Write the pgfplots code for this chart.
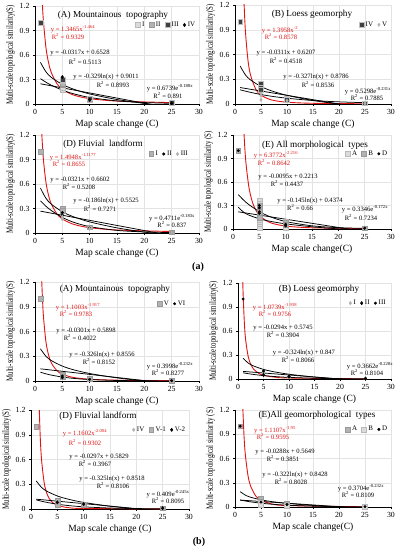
\documentclass[border=0pt]{standalone}
\usepackage{fontspec}
\setmainfont{Liberation Serif}
\usepackage{graphicx}
\usepackage{pgfplots}
\pgfplotsset{compat=1.18}
\definecolor{exred}{RGB}{225,20,20}
\newcommand{\eqf}{\fontsize{6.6}{7}\selectfont}
\newcommand{\ttl}{\fontsize{9.2}{10}\selectfont}
\newcommand{\yl}[1]{\scalebox{0.72}[1]{#1}}
\newcommand{\sq}{\textsuperscript}
\pgfplotsset{
 panel/.style={scale only axis, xmin=0, xmax=30, ymin=0, ymax=1.2,
   xtick={0,5,10,15,20,25,30}, ytick={0,0.3,0.6,0.9,1.2},
   grid=major, grid style={gray!22, line width=0.4pt},
   axis x line*=bottom, axis y line*=left,
   axis line style={black, line width=0.5pt},
   tick align=outside, major tick length=2pt, tick style={black, line width=0.4pt},
   /pgf/number format/assume math mode=true,
   ticklabel style={font=\fontsize{7.8}{8}\selectfont},
   yticklabel style={/pgf/number format/.cd, fixed, precision=1},
   xlabel style={font=\fontsize{9.5}{10}\selectfont, yshift=2pt},
   ylabel style={font=\fontsize{9.5}{10}\selectfont, yshift=-2pt},
   legend style={draw=none, fill=none, font=\fontsize{7}{8}\selectfont, legend columns=-1, anchor=east, inner sep=0pt, /tikz/every even column/.append style={column sep=2.5pt}},
 },
 sc/.style={only marks, legend image code/.code={\draw[mark repeat=2,mark phase=2,##1] plot coordinates {(0cm,0cm)(0.08cm,0cm)(0.16cm,0cm)};}},
 sqL/.style={mark=square*, mark options={fill=gray!28, draw=gray!55}, mark size=2.4pt},
 sqM/.style={mark=square*, mark options={fill=gray!60, draw=gray!80}, mark size=2.4pt},
 sqD/.style={mark=square*, mark options={fill=black!75, draw=gray!50}, mark size=2.4pt},
 dia/.style={mark=diamond*, mark options={fill=black, draw=black}, mark size=1.7pt},
 diaG/.style={mark=diamond*, mark options={fill=gray!60, draw=gray!60}, mark size=1.7pt},
 dt/.style={mark=*, mark options={fill=black, draw=black}, mark size=1.3pt},
 trR/.style={exred, line width=0.9pt, smooth, no markers, forget plot},
 trK/.style={black, line width=0.75pt, smooth, no markers, forget plot},
 trL/.style={black, line width=0.75pt, no markers, forget plot},
}
\begin{document}
\begin{tikzpicture}
\useasboundingbox (0,0) rectangle (398pt,550pt);

% ---------------- (a) A
\begin{axis}[panel, at={(35pt,446pt)}, anchor=south west, width=164pt, height=98pt,
  xlabel={Map scale change (C)}, ylabel={\yl{Multi-scale topological similarity(S)}},
  legend style={at={(0.99,0.806)}}]
\addplot[sc,sqL] coordinates {(1,1)(5,0.17)(5,0.2)(10,0.05)(25,0.01)}; \addlegendentry{I}
\addplot[sc,sqM] coordinates {(1,1)(5,0.23)(5,0.25)(10,0.06)(25,0.01)}; \addlegendentry{II}
\addplot[sc,sqD] coordinates {(1,1)(5,0.28)(5,0.3)(10,0.07)(25,0.012)}; \addlegendentry{III}
\addplot[sc,dia] coordinates {(5,0.33)(10,0.05)(25,0.01)}; \addlegendentry{IV}
\addplot[trR] coordinates {(1.3,1.296)(1.5,1.051)(2,0.691)(2.5,0.499)(3,0.382)(4,0.251)(5,0.181)(7,0.111)(10,0.066)(15,0.036)(25,0.017)};
\addplot[trK] coordinates {(1,0.51)(2,0.394)(3,0.325)(5,0.24)(7,0.183)(10,0.123)(15,0.055)(20,0.007)(25,-0.031)};
\addplot[trL] coordinates {(1,0.2475)(25,-0.0525)};
\addplot[trK] coordinates {(1,0.31)(2,0.267)(3,0.2295)(5,0.17)(7,0.126)(10,0.08)(15,0.038)(20,0.018)(25,0.0085)};
\end{axis}

% ---------------- (a) B
\begin{axis}[panel, at={(235pt,446pt)}, anchor=south west, width=156pt, height=99pt,
  xlabel={Map scale change (C)}, ylabel={\yl{Multi-scale topological similarity(S)}},
  legend style={at={(0.99,0.80)}}]
\addplot[sc,sqD] coordinates {(1,1)(5,0.25)(5,0.2)(5,0.17)(10,0.07)(10,0.05)(25,0.01)}; \addlegendentry{IV}
\addplot[sc,diaG] coordinates {(5,0.13)(5,0.1)(5,0.05)(10,0.04)(25,0.008)}; \addlegendentry{V}
\addplot[trR] coordinates {(1.7,1.284)(2,0.884)(2.5,0.528)(3,0.348)(4,0.179)(5,0.1074)(7,0.0495)(10,0.0218)(15,0.0086)(25,0.0027)};
\addplot[trK] coordinates {(1,0.46)(2,0.353)(3,0.291)(5,0.212)(7,0.16)(10,0.105)(15,0.043)(20,-0.001)(25,-0.036)};
\addplot[trL] coordinates {(1,0.1995)(25,-0.0525)};
\addplot[trK] coordinates {(1,0.172)(2,0.156)(3,0.141)(5,0.115)(7,0.094)(10,0.07)(15,0.042)(20,0.026)(25,0.016)};
\end{axis}

% ---------------- (a) D
\begin{axis}[panel, at={(35pt,317pt)}, anchor=south west, width=164pt, height=98pt,
  xlabel={Map scale change (C)}, ylabel={\yl{Multi-scale topological similarity(S)}},
  legend style={at={(0.945,0.806)}}]
\addplot[sc,sqM] coordinates {(1,1)(5,0.3)(5,0.27)(10,0.07)(25,0.01)}; \addlegendentry{I}
\addplot[sc,dt] coordinates {(5,0.25)(5,0.22)(10,0.06)(25,0.01)}; \addlegendentry{II}
\addplot[sc,diaG] coordinates {(5,0.2)(5,0.17)(10,0.05)(25,0.01)}; \addlegendentry{III}
\addplot[trR] coordinates {(1.2,1.27)(1.5,0.93)(2,0.622)(2.5,0.455)(3,0.352)(4,0.2355)(5,0.172)(7,0.1076)(10,0.0653)(15,0.037)(25,0.0181)};
\addplot[trK] coordinates {(1,0.55)(2,0.425)(3,0.352)(5,0.26)(7,0.2)(10,0.136)(15,0.063)(20,0.011)(25,-0.029)};
\addplot[trK] coordinates {(1,0.393)(2,0.328)(3,0.274)(5,0.191)(7,0.133)(10,0.078)(15,0.032)(20,0.0128)(25,0.0052)};
\addplot[trL] coordinates {(1,0.2675)(25,-0.0325)};
\end{axis}

% ---------------- (a) E
\begin{axis}[panel, at={(233pt,321pt)}, anchor=south west, width=158pt, height=94pt,
  xlabel={Map scale change(C)}, ylabel={\yl{Multi-scale topological similarity (S)}},
  legend style={at={(0.99,0.80)}}]
\addplot[sc,sqL] coordinates {(1,1)(5,0.36)(5,0.33)(5,0.3)(5,0.27)(5,0.24)(5,0.21)(5,0.18)(5,0.15)(5,0.12)(5,0.09)(5,0.06)(5,0.03)(5,0.01)(10,0.1)(10,0.07)(10,0.04)(10,0.02)(10,0.01)(25,0.01)}; \addlegendentry{A}
\addplot[sc,sqM] coordinates {(1,1)(5,0.3)(5,0.26)(5,0.22)(5,0.18)(5,0.14)(10,0.08)(10,0.05)(25,0.01)}; \addlegendentry{B}
\addplot[sc,dt] coordinates {(1,1)(5,0.3)(5,0.27)(5,0.22)(5,0.2)(10,0.06)(10,0.04)(25,0.01)}; \addlegendentry{D}
\addplot[trR] coordinates {(2,1.335)(2.25,1.028)(2.5,0.814)(3,0.543)(3.5,0.386)(4,0.287)(5,0.175)(7,0.0831)(10,0.0377)(15,0.0154)(25,0.005)};
\addplot[trK] coordinates {(1,0.439)(2,0.37)(3,0.312)(5,0.222)(7,0.158)(10,0.095)(15,0.041)(20,0.017)(25,0.0074)};
\addplot[trK] coordinates {(1,0.28)(2,0.2155)(3,0.1778)(5,0.1303)(7,0.099)(10,0.0659)(15,0.0282)(20,0.0014)(25,-0.0194)};
\addplot[trL] coordinates {(1,0.2195)(25,-0.0325)};
\end{axis}

% ---------------- (b) A
\begin{axis}[panel, at={(35pt,169pt)}, anchor=south west, width=164pt, height=99pt,
  xlabel={Map scale change (C)}, ylabel={\yl{Multi-scale topological similarity(S)}},
  legend style={at={(0.93,0.78)}}]
\addplot[sc,sqM] coordinates {(1,1)(5,0.08)(5,0.05)(10,0.03)(25,0.005)}; \addlegendentry{V}
\addplot[sc,dt] coordinates {(5,0.06)(5,0.04)(10,0.02)(25,0.005)}; \addlegendentry{VI}
\addplot[trR] coordinates {(1.2,1.268)(1.5,0.826)(2,0.476)(2.5,0.31)(3,0.218)(4,0.1256)(5,0.0819)(7,0.0429)(10,0.0216)(15,0.0099)(25,0.0037)};
\addplot[trK] coordinates {(1,0.39)(2,0.2999)(3,0.2472)(5,0.1808)(7,0.137)(10,0.0907)(15,0.038)(20,0.0005)(25,-0.0285)};
\addplot[trL] coordinates {(1,0.1475)(25,-0.0325)};
\addplot[trK] coordinates {(1,0.1064)(2,0.0871)(3,0.0713)(5,0.0478)(7,0.0321)(10,0.0176)(15,0.0065)(20,0.0024)(25,0.0009)};
\end{axis}

% ---------------- (b) B
\begin{axis}[panel, at={(238pt,171pt)}, anchor=south west, width=153pt, height=96pt,
  xlabel={Map scale change (C)}, ylabel={\yl{Multi-scale topological similarity(S)}},
  legend style={at={(0.98,0.79)}}]
\addplot[sc,diaG] coordinates {(5,0.06)(10,0.02)(25,0.005)}; \addlegendentry{I}
\addplot[sc,dia] coordinates {(5,0.05)(10,0.03)(25,0.005)}; \addlegendentry{II}
\addplot[sc,dt] coordinates {(1,1)(5,0.1)(10,0.03)(25,0.005)}; \addlegendentry{III}
\addplot[trR] coordinates {(0.9,1.317)(1,1.0739)(1.25,0.697)(1.5,0.489)(2,0.28)(2.5,0.182)(3,0.1277)(4,0.0732)(5,0.0475)(7,0.0247)(10,0.0124)(25,0.0021)};
\addplot[trK] coordinates {(1,0.26)(2,0.1997)(3,0.1644)(5,0.12)(7,0.0907)(10,0.0597)(15,0.0244)(20,0.0006)(25,-0.02)};
\addplot[trL] coordinates {(1,0.095)(25,-0.025)};
\addplot[trK] coordinates {(1,0.0775)(2,0.0667)(3,0.0574)(5,0.0425)(7,0.0315)(10,0.0201)(15,0.0095)(20,0.0045)(25,0.0021)};
\end{axis}

% ---------------- (b) D
\begin{axis}[panel, at={(31pt,41pt)}, anchor=south west, width=158pt, height=99pt,
  xlabel={Map scale change (C)}, ylabel={\yl{Multi-scale topological similarity(S)}},
  legend style={at={(0.99,0.80)}}]
\addplot[sc,diaG] coordinates {(5,0.07)(10,0.03)(25,0.01)}; \addlegendentry{IV}
\addplot[sc,sqM] coordinates {(1,1)(5,0.1)(5,0.05)(10,0.05)(25,0.01)}; \addlegendentry{V-1}
\addplot[sc,dia] coordinates {(5,0.08)(10,0.06)(25,0.01)}; \addlegendentry{V-2}
\addplot[trR] coordinates {(1.5,1.359)(1.75,0.878)(2,0.601)(2.5,0.319)(3,0.19)(3.5,0.1226)(4,0.0839)(5,0.0445)(7,0.0171)(10,0.0062)(25,0.0005)};
\addplot[trK] coordinates {(1,0.34)(2,0.2617)(3,0.2159)(5,0.1581)(7,0.1201)(10,0.0798)(15,0.034)(20,0.0015)(25,-0.0237)};
\addplot[trL] coordinates {(1,0.119)(25,-0.025)};
\addplot[trK] coordinates {(1,0.1108)(2,0.0944)(3,0.0804)(5,0.0584)(7,0.0424)(10,0.0262)(15,0.0118)(20,0.0053)(25,0.0024)};
\end{axis}

% ---------------- (b) E
\begin{axis}[panel, at={(235pt,43pt)}, anchor=south west, width=156pt, height=97pt,
  xlabel={Map scale change(C)}, ylabel={\yl{Multi-scale topological similarity (S)}},
  legend style={at={(0.99,0.80)}}]
\addplot[sc,sqM] coordinates {(1,1)(5,0.1)(5,0.07)(10,0.04)(10,0.02)(25,0.005)}; \addlegendentry{A}
\addplot[sc,sqL] coordinates {(5,0.05)(5,0.03)(10,0.02)(25,0.005)}; \addlegendentry{B}
\addplot[sc,dt] coordinates {(1,1)(5,0.06)(10,0.03)(25,0.005)}; \addlegendentry{D}
\addplot[trR] coordinates {(1.45,1.31)(1.75,0.861)(2,0.64)(2.5,0.389)(3,0.259)(4,0.136)(5,0.0829)(7,0.0391)(10,0.0177)(25,0.0023)};
\addplot[trK] coordinates {(1,0.19)(2,0.1463)(3,0.1208)(5,0.0886)(7,0.0674)(10,0.0449)(15,0.0194)(20,0.0013)(25,-0.0128)};
\addplot[trL] coordinates {(1,0.0857)(25,-0.0175)};
\addplot[trK] coordinates {(1,0.0861)(2,0.0741)(3,0.0638)(5,0.0472)(7,0.035)(10,0.0223)(15,0.0105)(20,0.005)(25,0.0024)};
\end{axis}

% ---------------- annotations (a) A
\node[font=\ttl] at (113pt,535pt) {(A) Mountainous\ \ topography};
\node[font=\eqf, text=exred] at (73pt,521pt) {y = 1.3465x\sq{-1.464}};
\node[font=\eqf, text=exred] at (68pt,513pt) {R\sq{2} = 0.9329};
\node[font=\eqf] at (80pt,497pt) {y = -0.0317x + 0.6528};
\node[font=\eqf] at (85pt,488pt) {R\sq{2} = 0.5113};
\node[font=\eqf] at (106pt,473pt) {y = -0.329ln(x) + 0.9011};
\node[font=\eqf] at (113pt,465pt) {R\sq{2} = 0.8993};
\node[font=\eqf] at (170pt,462pt) {y = 0.6739e\sq{-0.188x}};
\node[font=\eqf] at (168pt,454pt) {R\sq{2} = 0.891};
% (a) B
\node[font=\ttl] at (312pt,536pt) {(B) Loess geomorphy};
\node[font=\eqf, text=exred] at (280pt,520pt) {y = 1.3958x\sq{-2}};
\node[font=\eqf, text=exred] at (281pt,513pt) {R\sq{2} = 0.8578};
\node[font=\eqf] at (286pt,497pt) {y = -0.0311x + 0.6207};
\node[font=\eqf] at (286pt,489pt) {R\sq{2} = 0.4518};
\node[font=\eqf] at (316pt,473pt) {y = -0.327ln(x) + 0.8786};
\node[font=\eqf] at (318pt,465pt) {R\sq{2} = 0.8536};
\node[font=\eqf] at (368pt,459pt) {y = 0.5298e\sq{-0.231x}};
\node[font=\eqf] at (367pt,452pt) {R\sq{2} = 0.7885};
% (a) D
\node[font=\ttl] at (103pt,406pt) {(D) Fluvial\ \ landform};
\node[font=\eqf, text=exred] at (73pt,393pt) {y = 1.4948x\sq{-1.1177}};
\node[font=\eqf, text=exred] at (69pt,386pt) {R\sq{2} = 0.8655};
\node[font=\eqf] at (80pt,370pt) {y = -0.0321x + 0.6602};
\node[font=\eqf] at (79pt,363pt) {R\sq{2} = 0.5208};
\node[font=\eqf] at (106pt,349pt) {y = -0.186ln(x) + 0.5525};
\node[font=\eqf] at (100pt,341pt) {R\sq{2} = 0.7271};
\node[font=\eqf] at (172pt,332pt) {y = 0.4711e\sq{-0.183x}};
\node[font=\eqf] at (172pt,325pt) {R\sq{2} = 0.837};
% (a) E
\node[font=\ttl] at (315pt,405pt) {(E) All morphological\ \ types};
\node[font=\eqf, text=exred] at (276pt,395pt) {y = 6.3772x\sq{-2.216}};
\node[font=\eqf, text=exred] at (274pt,387pt) {R\sq{2} = 0.8642};
\node[font=\eqf] at (288pt,373pt) {y = -0.0095x + 0.2213};
\node[font=\eqf] at (287pt,366pt) {R\sq{2} = 0.4437};
\node[font=\eqf] at (310pt,349pt) {y = -0.145ln(x) + 0.4374};
\node[font=\eqf] at (300pt,342pt) {R\sq{2} = 0.66};
\node[font=\eqf] at (365pt,341pt) {y = 0.3346e\sq{-0.172x}};
\node[font=\eqf] at (361pt,332pt) {R\sq{2} = 0.7234};
% (b) A
\node[font=\ttl] at (115pt,261pt) {(A) Mountainous\ \ topography};
\node[font=\eqf, text=exred] at (78pt,243pt) {y = 1.1003x\sq{-1.917}};
\node[font=\eqf, text=exred] at (76pt,236pt) {R\sq{2} = 0.9783};
\node[font=\eqf] at (86pt,219pt) {y = -0.0301x + 0.5898};
\node[font=\eqf] at (80pt,212pt) {R\sq{2} = 0.4022};
\node[font=\eqf] at (102pt,195pt) {y = -0.326ln(x) + 0.8556};
\node[font=\eqf] at (99pt,188pt) {R\sq{2} = 0.8152};
\node[font=\eqf] at (170pt,184pt) {y = 0.3998e\sq{-0.232x}};
\node[font=\eqf] at (168pt,177pt) {R\sq{2} = 0.8277};
% (b) B
\node[font=\ttl] at (319pt,261pt) {(B) Loess geomorphy};
\node[font=\eqf, text=exred] at (275pt,243pt) {y = 1.0739x\sq{-1.938}};
\node[font=\eqf, text=exred] at (275pt,236pt) {R\sq{2} = 0.9756};
\node[font=\eqf] at (283pt,222pt) {y = -0.0294x + 0.5745};
\node[font=\eqf] at (283pt,215pt) {R\sq{2} = 0.3904};
\node[font=\eqf] at (304pt,197pt) {y = -0.324ln(x) + 0.847};
\node[font=\eqf] at (298pt,190pt) {R\sq{2} = 0.8066};
\node[font=\eqf] at (370pt,184pt) {y = 0.3662e\sq{-0.228x}};
\node[font=\eqf] at (367pt,177pt) {R\sq{2} = 0.8104};
% (b) D
\node[font=\ttl] at (98pt,134pt) {(D) Fluvial landform};
\node[font=\eqf, text=exred] at (85pt,117pt) {y = 1.1602x\sq{-2.004}};
\node[font=\eqf, text=exred] at (85pt,107pt) {R\sq{2} = 0.9302};
\node[font=\eqf] at (99pt,93pt) {y = -0.0297x + 0.5829};
\node[font=\eqf] at (95pt,86pt) {R\sq{2} = 0.3967};
\node[font=\eqf] at (112pt,71pt) {y = -0.325ln(x) + 0.8518};
\node[font=\eqf] at (113pt,64pt) {R\sq{2} = 0.8106};
\node[font=\eqf] at (168pt,56pt) {y = 0.409e\sq{-0.245x}};
\node[font=\eqf] at (168pt,49pt) {R\sq{2} = 0.8095};
% (b) E
\node[font=\ttl] at (317pt,135pt) {(E)All geomorphological\ \ types};
\node[font=\eqf, text=exred] at (275pt,120pt) {y = 1.1107x\sq{-1.95}};
\node[font=\eqf, text=exred] at (273pt,113pt) {R\sq{2} = 0.9595};
\node[font=\eqf] at (285pt,98pt) {y = -0.0288x + 0.5649};
\node[font=\eqf] at (283pt,91pt) {R\sq{2} = 0.3851};
\node[font=\eqf] at (295pt,75pt) {y = -0.322ln(x) + 0.8428};
\node[font=\eqf] at (291pt,68pt) {R\sq{2} = 0.8028};
\node[font=\eqf] at (361pt,62pt) {y = 0.3704e\sq{-0.232x}};
\node[font=\eqf] at (358pt,55pt) {R\sq{2} = 0.8109};
% figure part labels
\node[font=\fontsize{10}{11}\selectfont\bfseries] at (198pt,283pt) {(a)};
\node[font=\fontsize{10}{11}\selectfont\bfseries] at (199pt,8pt) {(b)};
\end{tikzpicture}
\end{document}
